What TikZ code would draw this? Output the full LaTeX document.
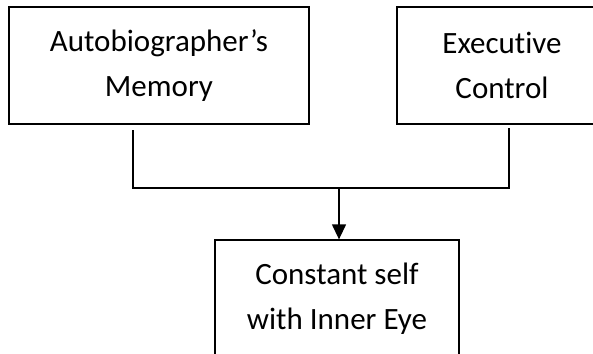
\documentclass[tikz,border=0pt]{standalone}
\usepackage{fontspec}
\setmainfont[Ligatures=NoCommon]{Carlito}
\usetikzlibrary{arrows.meta}

\begin{document}
\begin{tikzpicture}[x=1pt,y=1pt,
    blockbox/.style={draw, line width=1.3pt, align=center, inner sep=0pt,
      minimum height=117pt, font=\fontsize{31}{45}\selectfont},
    joinline/.style={line width=1.3pt}]
  \useasboundingbox (0,0) rectangle (593,-353);
  \clip (0,0) rectangle (593,-353);

  % Nodes
  % Memory
  \node[blockbox, minimum width=300pt] (mem) at (159,-65.5) {Autobiographer’s\\Memory};

  % Control
  \node[blockbox, minimum width=210pt] (ctl) at (502,-65.5) {Executive\\Control};

  % Self
  \node[blockbox, minimum width=244pt] (self) at (337,-298.5) {Constant self\\with Inner Eye};

  % Joints
  \coordinate (memdown) at (133,-130);
  \coordinate (ctldown) at (509,-128);
  \coordinate (joint) at (339,-188);

  % Arrows
  \draw[joinline] (memdown) |- (joint) -| (ctldown);
  \draw[joinline, -{Triangle[length=15pt,width=14pt]}] (joint) -- (joint |- self.north);

\end{tikzpicture}
\end{document}
